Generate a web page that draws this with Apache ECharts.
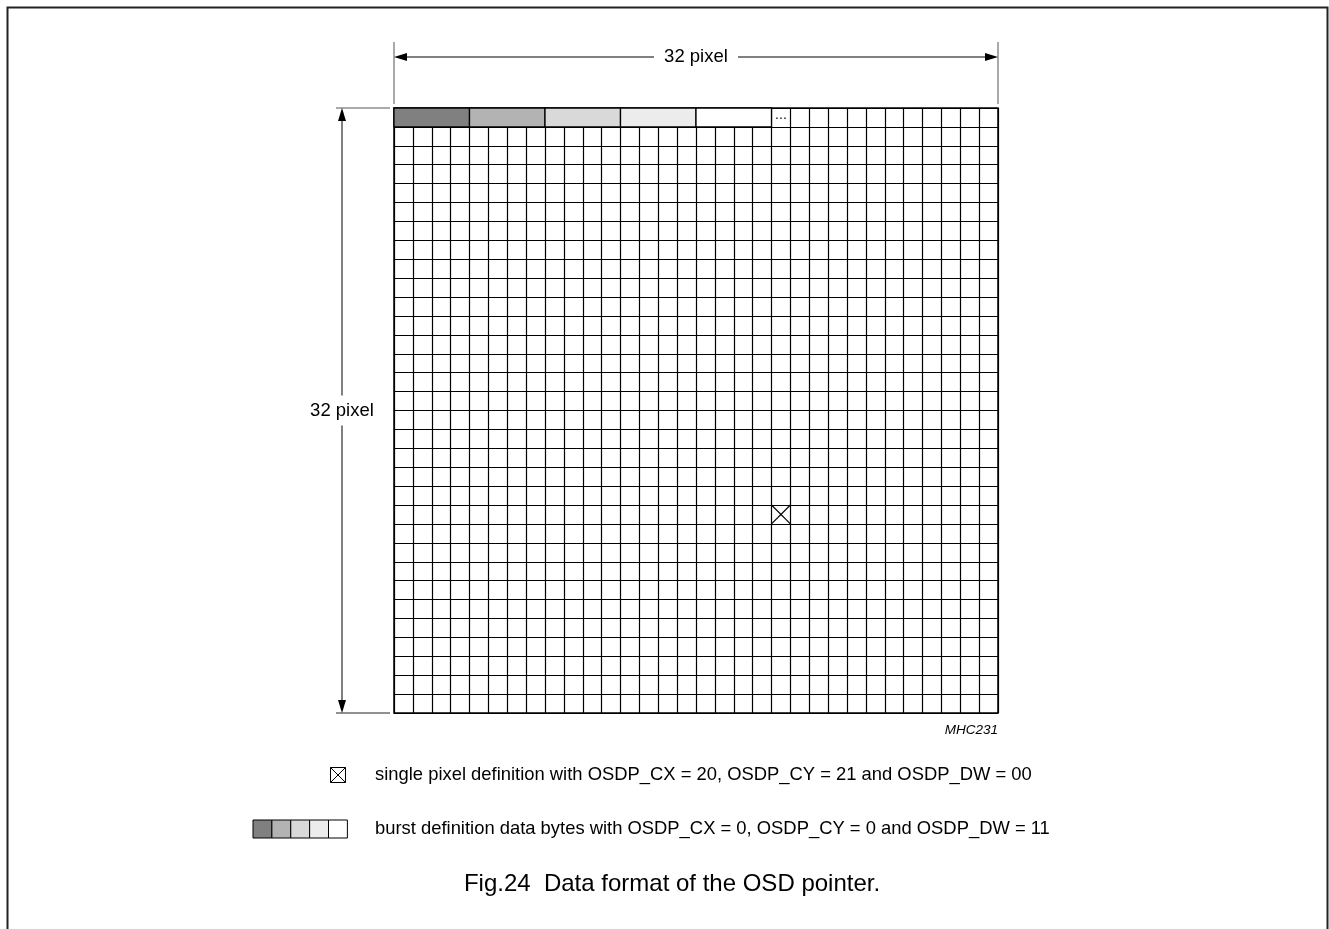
<!DOCTYPE html>
<html><head><meta charset="utf-8">
<script src="https://cdn.jsdelivr.net/npm/echarts@6/dist/echarts.min.js"></script>
<style>html,body{margin:0;padding:0;background:#fff}#c{width:1329px;height:929px}</style>
</head><body><div id="c"></div>
<script>
// ---- data ----
const gridSize = 32;
const burstStarts = [0, 4, 8, 12, 16];
const burstWidths = [4, 4, 4, 4, 4];
const burstColors = ['#808080', '#b3b3b3', '#d9d9d9', '#ececec', '#ffffff'];
const singlePixel = [20, 21];
const ellipsisCell = [20, 0];
const dimLabel = '32 pixel';
const codeLabel = 'MHC231';
const legendSingle = 'single pixel definition with OSDP_CX = 20, OSDP_CY = 21 and OSDP_DW = 00';
const legendBurst = 'burst definition data bytes with OSDP_CX = 0, OSDP_CY = 0 and OSDP_DW = 11';
const caption = 'Fig.24  Data format of the OSD pointer.';

const FONT = '"Liberation Sans", Arial, sans-serif';
const chart = echarts.init(document.getElementById('c'), null, {renderer: 'canvas'});

const burstData = burstStarts.map((s, i) => [s, burstWidths[i], i]);

chart.setOption({
  animation: false,
  backgroundColor: '#fff',
  grid: {left: 394, top: 108, width: 604, height: 605, show: true, borderColor: '#000', borderWidth: 1.5, backgroundColor: 'transparent'},
  xAxis: {type: 'value', min: 0, max: gridSize, interval: 1,
    axisLine: {show: false}, axisTick: {show: false}, axisLabel: {show: false},
    splitLine: {show: true, lineStyle: {color: '#000', width: 1.2}}},
  yAxis: {type: 'value', min: 0, max: gridSize, interval: 1, inverse: true,
    axisLine: {show: false}, axisTick: {show: false}, axisLabel: {show: false},
    splitLine: {show: true, lineStyle: {color: '#000', width: 1.2}}},
  series: [
    {type: 'custom', data: burstData, silent: true,
      renderItem(params, api) {
        const s = api.value(0), w = api.value(1);
        const p0 = api.coord([s, 0]), p1 = api.coord([s + w, 1]);
        return {type: 'rect', shape: {x: p0[0], y: p0[1], width: p1[0] - p0[0], height: p1[1] - p0[1]},
          style: {fill: burstColors[api.value(2)], stroke: '#000', lineWidth: 1.3}};
      }},
    {type: 'custom', data: [ellipsisCell], silent: true,
      renderItem(params, api) {
        const p = api.coord([api.value(0) + 0.5, api.value(1) + 0.5]);
        return {type: 'text', style: {text: '...', x: p[0], y: p[1] - 2, align: 'center', verticalAlign: 'middle',
          font: '14px ' + FONT, fill: '#000'}};
      }},
    {type: 'custom', data: [singlePixel], silent: true,
      renderItem(params, api) {
        const a = api.coord([api.value(0), api.value(1)]);
        const b = api.coord([api.value(0) + 1, api.value(1) + 1]);
        return {type: 'group', children: [
          {type: 'line', shape: {x1: a[0], y1: a[1], x2: b[0], y2: b[1]}, style: {stroke: '#000', lineWidth: 1.2}},
          {type: 'line', shape: {x1: a[0], y1: b[1], x2: b[0], y2: a[1]}, style: {stroke: '#000', lineWidth: 1.2}}
        ]};
      }}
  ]
});

// annotations positioned from the grid coordinate system
const tl = chart.convertToPixel({gridIndex: 0}, [0, 0]);
const br = chart.convertToPixel({gridIndex: 0}, [gridSize, gridSize]);
const L = tl[0], T = tl[1], R = br[0], B = br[1];
const dimY = 57, dimX = 342;
const g = [];
function line(x1, y1, x2, y2, c, w) { g.push({type: 'line', shape: {x1, y1, x2, y2}, style: {stroke: c || '#000', lineWidth: w || 1}, silent: true}); }
function tri(pts) { g.push({type: 'polygon', shape: {points: pts}, style: {fill: '#000'}, silent: true}); }
function txt(t, x, y, font, align) { g.push({type: 'text', style: {text: t, x, y, font: font, fill: '#000', align: align || 'left', verticalAlign: 'middle'}, silent: true}); }

// frame
g.push({type: 'polyline', shape: {points: [[7.5, 940], [7.5, 7.5], [1327.5, 7.5], [1327.5, 940]]}, style: {stroke: '#222', lineWidth: 2, fill: null}, silent: true});

// top dimension
line(L, 42, L, T - 4, '#555');
line(R, 42, R, T - 4, '#555');
const cx = (L + R) / 2;
line(L + 10, dimY, cx - 42, dimY);
line(cx + 42, dimY, R - 10, dimY);
tri([[L, dimY], [L + 13, dimY - 4], [L + 13, dimY + 4]]);
tri([[R, dimY], [R - 13, dimY - 4], [R - 13, dimY + 4]]);
txt(dimLabel, cx, dimY, '18.5px ' + FONT, 'center');

// left dimension
line(336, T, L - 4, T, '#555');
line(336, B, L - 4, B, '#222');
const cy = (T + B) / 2;
line(dimX, T + 10, dimX, cy - 15);
line(dimX, cy + 15, dimX, B - 10);
tri([[dimX, T], [dimX - 4, T + 13], [dimX + 4, T + 13]]);
tri([[dimX, B], [dimX - 4, B - 13], [dimX + 4, B - 13]]);
txt(dimLabel, dimX, cy, '18.5px ' + FONT, 'center');

// code
txt(codeLabel, R, 730, 'italic 13.5px ' + FONT, 'right');

// legend: single pixel
g.push({type: 'rect', shape: {x: 330.5, y: 767.5, width: 15, height: 15}, style: {fill: '#fff', stroke: '#000', lineWidth: 1}, silent: true});
line(330.5, 767.5, 345.5, 782.5);
line(330.5, 782.5, 345.5, 767.5);
txt(legendSingle, 375, 775, '18.4px ' + FONT, 'left');

// legend: burst
const bw = (R - L) / gridSize;
const legY = 820;
burstColors.forEach((c, i) => {
  g.push({type: 'rect', shape: {x: 253 + i * bw, y: legY, width: bw, height: 18}, style: {fill: c, stroke: '#000', lineWidth: 1}, silent: true});
});
txt(legendBurst, 375, legY + 9, '18.4px ' + FONT, 'left');

// caption
txt(caption, 672, 884, '24px ' + FONT, 'center');

chart.setOption({graphic: {elements: g}});
</script>
</body></html>
